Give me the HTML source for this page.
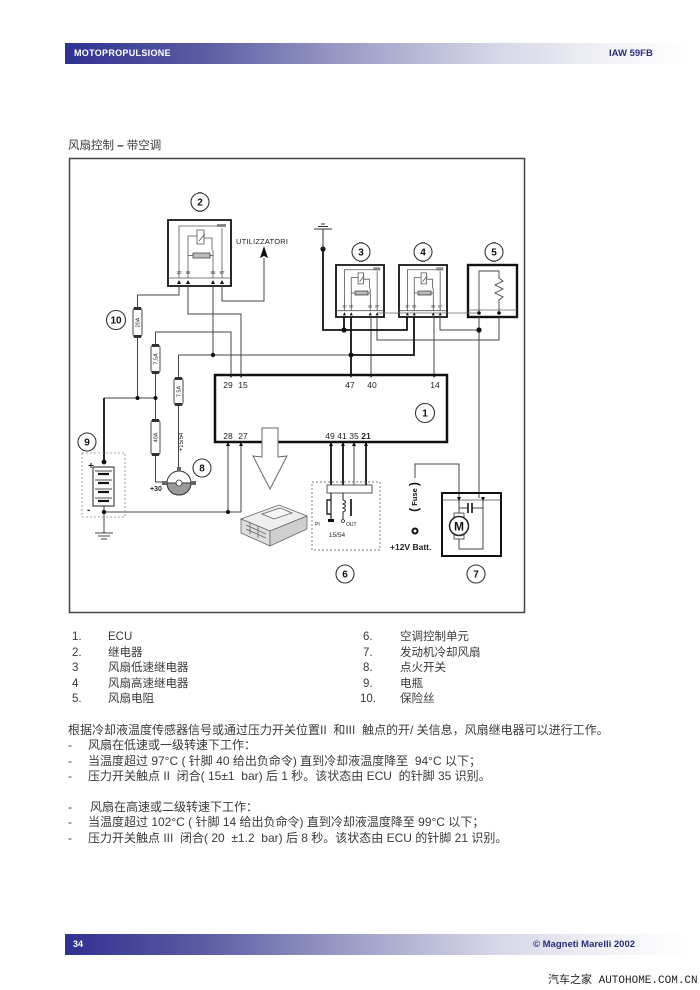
<!DOCTYPE html>
<html><head><meta charset="utf-8">
<style>
html,body{margin:0;padding:0;background:#fff;}
body{width:700px;height:990px;position:relative;overflow:hidden;font-family:"Liberation Sans","Noto Sans CJK SC",sans-serif;color:#3a3a3a;}
.t{position:absolute;white-space:pre;font-size:12px;line-height:16px;}
.lg{position:absolute;white-space:pre;font-size:11.5px;line-height:16px;}
.bar{position:absolute;left:65px;width:627px;height:21px;background:linear-gradient(to right,#2f3190 0%,#5a5ca3 22%,#9c9dc6 45%,#d4d5e6 68%,#f4f4f8 88%,#ffffff 100%);}
</style></head><body>

<div class="bar" style="top:43px;"></div>
<div style="position:absolute;left:74px;top:43px;line-height:21px;font-size:9px;font-weight:bold;color:#fff;letter-spacing:0.3px;">MOTOPROPULSIONE</div>
<div style="position:absolute;left:609px;top:43px;line-height:21px;font-size:9.5px;font-weight:bold;color:#2a2d7a;">IAW 59FB</div>

<div class="t" style="left:68px;top:138px;font-size:11.5px;">风扇控制 <b style="color:#222">–</b> 带空调</div>

<svg width="700" height="990" style="position:absolute;left:0;top:0" xmlns="http://www.w3.org/2000/svg" font-family="Liberation Sans, sans-serif">
<!-- border -->
<rect x="69.5" y="158.5" width="455" height="454" fill="none" stroke="#444" stroke-width="1.5"/>

<!-- relay 2 -->
<g transform="translate(168,220)">
 <rect x="0" y="0" width="63" height="66" fill="#fff" stroke="#111" stroke-width="1.8" vector-effect="non-scaling-stroke"/>
 <g fill="none" stroke="#555" stroke-width="0.8" vector-effect="non-scaling-stroke">
  <line x1="0" y1="58" x2="63" y2="58" vector-effect="non-scaling-stroke"/>
  <polyline points="11,58 11,6 50,6" vector-effect="non-scaling-stroke"/>
  <line x1="54" y1="8" x2="54" y2="58" vector-effect="non-scaling-stroke"/>
  <polyline points="20,58 20,16 29,16" vector-effect="non-scaling-stroke"/>
  <rect x="29" y="10" width="7" height="14" vector-effect="non-scaling-stroke"/>
  <line x1="31" y1="21" x2="37" y2="14" vector-effect="non-scaling-stroke"/>
  <polyline points="36,18 44,18 44,30" vector-effect="non-scaling-stroke"/>
  <line x1="20" y1="35.5" x2="25" y2="35.5" vector-effect="non-scaling-stroke"/>
  <line x1="42" y1="35.5" x2="45" y2="35.5" vector-effect="non-scaling-stroke"/>
  <line x1="45" y1="30" x2="45" y2="58" vector-effect="non-scaling-stroke"/>
 </g>
 <rect x="25" y="33" width="17" height="5" fill="#bbb" stroke="#444" stroke-width="0.8" vector-effect="non-scaling-stroke"/>
 <rect x="49" y="4" width="9" height="3" fill="#888"/>
 <g fill="#111"><polygon points="9,64 13,64 11,60"/><polygon points="18,64 22,64 20,60"/><polygon points="43,64 47,64 45,60"/><polygon points="52,64 56,64 54,60"/></g>
 <g font-size="4.5" fill="#333" text-anchor="middle"><text x="11" y="54">30</text><text x="20" y="54">86</text><text x="45" y="54">85</text><text x="54" y="54">87</text></g>
</g>

<!-- relay 3 -->
<g transform="translate(336,265) scale(0.762,0.788)">
 <rect x="0" y="0" width="63" height="66" fill="#fff" stroke="#111" stroke-width="1.8" vector-effect="non-scaling-stroke"/>
 <g fill="none" stroke="#555" stroke-width="0.8">
  <line x1="0" y1="58" x2="63" y2="58" vector-effect="non-scaling-stroke"/>
  <polyline points="11,58 11,6 50,6" vector-effect="non-scaling-stroke"/>
  <line x1="54" y1="8" x2="54" y2="58" vector-effect="non-scaling-stroke"/>
  <polyline points="20,58 20,16 29,16" vector-effect="non-scaling-stroke"/>
  <rect x="29" y="10" width="7" height="14" vector-effect="non-scaling-stroke"/>
  <line x1="31" y1="21" x2="37" y2="14" vector-effect="non-scaling-stroke"/>
  <polyline points="36,18 44,18 44,30" vector-effect="non-scaling-stroke"/>
  <line x1="20" y1="35.5" x2="25" y2="35.5" vector-effect="non-scaling-stroke"/>
  <line x1="42" y1="35.5" x2="45" y2="35.5" vector-effect="non-scaling-stroke"/>
  <line x1="45" y1="30" x2="45" y2="58" vector-effect="non-scaling-stroke"/>
 </g>
 <rect x="25" y="33" width="17" height="5" fill="#bbb" stroke="#444" stroke-width="0.8" vector-effect="non-scaling-stroke"/>
 <rect x="49" y="3" width="9" height="4" fill="#888"/>
 <g fill="#111"><polygon points="9,64 13,64 11,60"/><polygon points="18,64 22,64 20,60"/><polygon points="43,64 47,64 45,60"/><polygon points="52,64 56,64 54,60"/></g>
 <g font-size="5" fill="#333" text-anchor="middle"><text x="11" y="54">30</text><text x="20" y="54">85</text><text x="45" y="54">86</text><text x="54" y="54">87</text></g>
</g>

<!-- relay 4 -->
<g transform="translate(399,265) scale(0.762,0.788)">
 <rect x="0" y="0" width="63" height="66" fill="#fff" stroke="#111" stroke-width="1.8" vector-effect="non-scaling-stroke"/>
 <g fill="none" stroke="#555" stroke-width="0.8">
  <line x1="0" y1="58" x2="63" y2="58" vector-effect="non-scaling-stroke"/>
  <polyline points="11,58 11,6 50,6" vector-effect="non-scaling-stroke"/>
  <line x1="54" y1="8" x2="54" y2="58" vector-effect="non-scaling-stroke"/>
  <polyline points="20,58 20,16 29,16" vector-effect="non-scaling-stroke"/>
  <rect x="29" y="10" width="7" height="14" vector-effect="non-scaling-stroke"/>
  <line x1="31" y1="21" x2="37" y2="14" vector-effect="non-scaling-stroke"/>
  <polyline points="36,18 44,18 44,30" vector-effect="non-scaling-stroke"/>
  <line x1="20" y1="35.5" x2="25" y2="35.5" vector-effect="non-scaling-stroke"/>
  <line x1="42" y1="35.5" x2="45" y2="35.5" vector-effect="non-scaling-stroke"/>
  <line x1="45" y1="30" x2="45" y2="58" vector-effect="non-scaling-stroke"/>
 </g>
 <rect x="25" y="33" width="17" height="5" fill="#bbb" stroke="#444" stroke-width="0.8" vector-effect="non-scaling-stroke"/>
 <rect x="49" y="3" width="9" height="4" fill="#888"/>
 <g fill="#111"><polygon points="9,64 13,64 11,60"/><polygon points="18,64 22,64 20,60"/><polygon points="43,64 47,64 45,60"/><polygon points="52,64 56,64 54,60"/></g>
 <g font-size="5" fill="#333" text-anchor="middle"><text x="11" y="54">30</text><text x="20" y="54">85</text><text x="45" y="54">86</text><text x="54" y="54">87</text></g>
</g>

<!-- resistor 5 -->
<rect x="468" y="265" width="49" height="52" fill="#fff" stroke="#111" stroke-width="2.4"/>
<line x1="468" y1="310" x2="517" y2="310" stroke="#666" stroke-width="0.8"/>
<polyline points="479,313 479,271 499,271 499,278 503,281 495,285 503,289 495,293 503,297 499,300 499,313" fill="none" stroke="#444" stroke-width="0.9"/>

<!-- wires thin -->
<g fill="none" stroke="#444" stroke-width="1">
 <path d="M179 286 V295 H137.5 V308"/>
 <path d="M137.5 337 V398"/>
 <path d="M188 286 V314 H241 V375"/>
 <path d="M213 286 V355"/>
 <path d="M222 286 V301 H264 V258"/>
 <path d="M231 375 V332 H155.5 V345"/>
 <path d="M155.5 373 V420"/>
 <path d="M155.5 455 V482 H163"/>
 <path d="M104 398 H155.5"/>
 <path d="M178.5 355 H351"/>
 <path d="M178.5 355 V378"/>
 <path d="M178.5 405 V467"/>
 <path d="M371 317 V375"/>
 <path d="M434 317 V375"/>
 <path d="M377 317 V340 H499 V317"/>
 <path d="M440 317 V330 H479"/>
 <path d="M479 317 V498"/>
 <path d="M377 313 H479" stroke="#666" stroke-width="0.8"/>
 <path d="M104 512 H241"/>
 <path d="M228 512 V443"/>
 <path d="M241 512 V443"/>
 <path d="M104 506 V533"/>
 <path d="M354 443 V485"/>
 <path d="M415 478 V464 H459 V498"/>
 <path d="M459 500 V514"/>
 <path d="M459 538 V549 H483 V500"/>
 <path d="M459 508 H468 M472 508 H483"/>
</g>
<!-- wires thick -->
<g fill="none" stroke="#111" stroke-width="1.8">
 <path d="M104 398 V462"/>
 <path d="M351 317 V375"/>
 <path d="M414 317 V355 H351"/>
 <path d="M323 249 V330 H407 V317"/>
 <path d="M344 317 V330"/>
 <path d="M331 443 V485"/>
 <path d="M343 443 V485"/>
 <path d="M366 443 V485"/>
</g>
<!-- dots -->
<g fill="#111">
 <circle cx="213" cy="355" r="2.2"/><circle cx="351" cy="355" r="2.4"/>
 <circle cx="137.5" cy="398" r="2"/><circle cx="155.5" cy="398" r="2"/>
 <circle cx="104" cy="462" r="2.4"/><circle cx="104" cy="512" r="2.2"/>
 <circle cx="228" cy="512" r="2"/><circle cx="323" cy="249" r="2.6"/>
 <circle cx="344" cy="330" r="2.6"/><circle cx="479" cy="330" r="2.6"/>
 <circle cx="479" cy="313" r="1.8"/><circle cx="499" cy="313" r="1.8"/>
</g>

<!-- ground symbol top -->
<g stroke="#333" stroke-width="1"><line x1="323" y1="229" x2="323" y2="249"/><line x1="314" y1="229" x2="332" y2="229"/><line x1="318" y1="226.5" x2="328" y2="226.5"/><line x1="321" y1="224" x2="325" y2="224"/></g>

<!-- UTILIZZATORI arrow -->
<polygon points="264,246 268,258 264,256 260,258" fill="#111"/>
<text x="236" y="244" font-size="7.5" fill="#222" letter-spacing="0.2">UTILIZZATORI</text>

<!-- fuses -->
<g stroke="#333" stroke-width="0.9" fill="#fff">
 <rect x="133" y="308" width="9" height="29" rx="2.5"/>
 <rect x="151" y="345" width="9" height="28" rx="2.5"/>
 <rect x="174" y="378" width="9" height="27" rx="2.5"/>
 <rect x="151" y="420" width="9" height="35" rx="2.5"/>
</g>
<g fill="#333">
 <rect x="134" y="307" width="7" height="3"/><rect x="134" y="335" width="7" height="3"/>
 <rect x="152" y="344" width="7" height="3"/><rect x="152" y="371" width="7" height="3"/>
 <rect x="175" y="377" width="7" height="3"/><rect x="175" y="403" width="7" height="3"/>
 <rect x="152" y="419" width="7" height="3"/><rect x="152" y="453" width="7" height="3"/>
</g>
<g font-size="5.5" fill="#222" text-anchor="middle">
 <text transform="translate(139.5,322.5) rotate(-90)">20A</text>
 <text transform="translate(157.5,359) rotate(-90)">7,5A</text>
 <text transform="translate(180.5,391.5) rotate(-90)">7.5A</text>
 <text transform="translate(157.5,437.5) rotate(-90)">40A</text>
 <text transform="translate(183,442) rotate(-90)" font-size="6">+15/54</text>
</g>

<!-- ECU -->
<rect x="215" y="375" width="232" height="67" fill="#fff" stroke="#111" stroke-width="2.5"/>
<g fill="#111">
 <polygon points="229,374 233,374 231,378"/><polygon points="239,374 243,374 241,378"/>
 <polygon points="349,374 353,374 351,378"/><polygon points="369,374 373,374 371,378"/>
 <polygon points="432,374 436,374 434,378"/>
 <polygon points="226,446 230,446 228,442"/><polygon points="239,446 243,446 241,442"/>
 <polygon points="329,446 333,446 331,442"/><polygon points="341,446 345,446 343,442"/>
 <polygon points="352,446 356,446 354,442"/><polygon points="364,446 368,446 366,442"/>
</g>
<g font-size="8.5" fill="#222" text-anchor="middle">
 <text x="228" y="388">29</text><text x="243" y="388">15</text>
 <text x="350" y="388">47</text><text x="372" y="388">40</text><text x="435" y="388">14</text>
 <text x="228" y="439">28</text><text x="243" y="439">27</text>
 <text x="330" y="439">49</text><text x="342" y="439">41</text><text x="354" y="439">35</text><text x="366" y="439" font-weight="bold">21</text>
</g>
<!-- hollow arrow -->
<path d="M262 428 H278 V457 L287 456 L270 489 L253 456 L262 457 Z" fill="#fff" stroke="#666" stroke-width="1"/>

<!-- ECU module drawing -->
<g stroke="#666" stroke-width="0.8">
 <polygon points="241,519 279,505 307,516 270,531" fill="#eee"/>
 <polygon points="241,519 270,531 270,546 241,533" fill="#ddd"/>
 <polygon points="270,531 307,516 307,529 270,546" fill="#cfcfcf"/>
 <polygon points="262,514 280,508 292,513 274,519" fill="#f6f6f6"/>
 <line x1="246" y1="525" x2="266" y2="534"/>
 <line x1="246" y1="529" x2="266" y2="538"/>
 <line x1="250" y1="522" x2="250" y2="534"/>
 <line x1="258" y1="526" x2="258" y2="538"/>
</g>

<!-- battery 9 -->
<rect x="82" y="453" width="43" height="64" fill="none" stroke="#888" stroke-width="0.8" stroke-dasharray="2,2"/>
<rect x="93" y="467" width="21" height="39" fill="#fff" stroke="#222" stroke-width="1"/>
<g stroke="#111">
 <line x1="95" y1="471" x2="112" y2="471" stroke-width="0.8"/><line x1="98" y1="474" x2="109" y2="474" stroke-width="2.2"/>
 <line x1="95" y1="480" x2="112" y2="480" stroke-width="0.8"/><line x1="98" y1="483" x2="109" y2="483" stroke-width="2.2"/>
 <line x1="95" y1="489" x2="112" y2="489" stroke-width="0.8"/><line x1="98" y1="492" x2="109" y2="492" stroke-width="2.2"/>
 <line x1="95" y1="498" x2="112" y2="498" stroke-width="0.8"/><line x1="98" y1="501" x2="109" y2="501" stroke-width="2.2"/>
</g>
<text x="88" y="469" font-size="10" font-weight="bold" fill="#222">+</text>
<text x="87" y="513" font-size="10" font-weight="bold" fill="#222">-</text>
<g stroke="#444" stroke-width="1"><line x1="95" y1="533" x2="113" y2="533"/><line x1="98" y1="536" x2="110" y2="536"/><line x1="101" y1="539" x2="107" y2="539"/></g>

<!-- ignition switch 8 -->
<circle cx="179" cy="483" r="12" fill="#fff" stroke="#333" stroke-width="1"/>
<path d="M167 483 A12 12 0 0 0 191 483 Z" fill="#9a9a9a" stroke="#333" stroke-width="1"/>
<circle cx="179" cy="483" r="3" fill="#fff" stroke="#333" stroke-width="0.8"/>
<rect x="162" y="481" width="5" height="4" fill="#666"/><rect x="191" y="481" width="5" height="4" fill="#666"/><rect x="177" y="467" width="4" height="4" fill="#666"/>
<text x="150" y="491" font-size="7" font-weight="bold" fill="#222">+30</text>

<!-- AC unit 6 -->
<rect x="312" y="482" width="68" height="68" fill="none" stroke="#777" stroke-width="0.9" stroke-dasharray="2,2"/>
<rect x="327" y="485" width="45" height="8" fill="#fff" stroke="#444" stroke-width="0.9"/>
<g stroke="#222" fill="none">
 <path d="M331 493 V520" stroke-width="1.2"/>
 <path d="M331 500 H327 V514 H331" stroke-width="1.4"/>
 <path d="M343 493 V500" stroke-width="1"/>
 <path d="M343 500 q5 2 0 4 q5 2 0 4 q5 2 0 4 V519" stroke-width="1"/>
 <path d="M351 499 V516" stroke-width="1.8"/>
</g>
<rect x="328" y="519" width="6" height="3" fill="#111"/>
<circle cx="343" cy="521" r="1.5" fill="#fff" stroke="#222" stroke-width="0.8"/>
<text x="315" y="526" font-size="5" fill="#222">PI</text>
<text x="346" y="526" font-size="5" fill="#222">OUT</text>
<text x="337" y="537" font-size="6.5" fill="#222" text-anchor="middle">15/54</text>

<!-- fuse +12V -->
<text transform="translate(418,497) rotate(-90)" text-anchor="middle" fill="#111" font-weight="bold"><tspan font-size="12">(</tspan><tspan font-size="7.5" dy="-1"> Fuse </tspan><tspan font-size="12" dy="1">)</tspan></text>
<circle cx="415" cy="531" r="2.5" fill="#fff" stroke="#111" stroke-width="2"/>
<text x="390" y="550" font-size="8.5" font-weight="bold" fill="#222">+12V Batt.</text>

<!-- motor 7 -->
<rect x="442" y="493" width="59" height="63" fill="none" stroke="#111" stroke-width="2"/>
<line x1="442" y1="500" x2="501" y2="500" stroke="#555" stroke-width="0.8"/>
<polygon points="457,497 461,497 459,501" fill="#111"/><polygon points="481,497 485,497 483,501" fill="#111"/>
<g stroke="#111" stroke-width="1.6"><line x1="468" y1="503" x2="468" y2="513"/><line x1="472" y1="503" x2="472" y2="513"/></g>
<rect x="454" y="513" width="10" height="4" fill="#fff" stroke="#333" stroke-width="0.8"/>
<rect x="454" y="535" width="10" height="4" fill="#fff" stroke="#333" stroke-width="0.8"/>
<circle cx="459" cy="526" r="9.5" fill="#fff" stroke="#222" stroke-width="1.5"/>
<text x="459" y="530.5" font-size="12" font-weight="bold" fill="#111" text-anchor="middle">M</text>

<!-- numbered circles -->
<g stroke="#333" stroke-width="1.1" fill="#fff">
 <circle cx="200" cy="202" r="9"/><circle cx="116" cy="320" r="9.5"/><circle cx="87" cy="442" r="9"/>
 <circle cx="202" cy="468" r="9"/><circle cx="425" cy="413" r="9.5"/><circle cx="361" cy="252" r="9"/>
 <circle cx="423" cy="252" r="9"/><circle cx="494" cy="252" r="9"/><circle cx="345" cy="574" r="9"/>
 <circle cx="476" cy="574" r="9"/>
</g>
<g fill="#555">
 <rect x="198" y="192" width="4" height="1.5"/><rect x="198" y="210.5" width="4" height="1.5"/>
 <rect x="359" y="242" width="4" height="1.5"/><rect x="359" y="260.5" width="4" height="1.5"/>
 <rect x="421" y="242" width="4" height="1.5"/><rect x="421" y="260.5" width="4" height="1.5"/>
 <rect x="492" y="242" width="4" height="1.5"/><rect x="492" y="260.5" width="4" height="1.5"/>
</g>
<g font-size="10" font-weight="bold" fill="#111" text-anchor="middle">
 <text x="200" y="205.5">2</text><text x="116" y="323.5">10</text><text x="87" y="445.5">9</text>
 <text x="202" y="471.5">8</text><text x="425" y="416.5">1</text><text x="361" y="255.5">3</text>
 <text x="423" y="255.5">4</text><text x="494" y="255.5">5</text><text x="345" y="577.5">6</text>
 <text x="476" y="577.5">7</text>
</g>
</svg>

<!-- legend -->
<div class="lg" style="left:72px;top:629px;">1.</div><div class="lg" style="left:108px;top:629px;">ECU</div>
<div class="lg" style="left:72px;top:645px;">2.</div><div class="lg" style="left:108px;top:645px;">继电器</div>
<div class="lg" style="left:72px;top:660px;">3</div><div class="lg" style="left:108px;top:660px;">风扇低速继电器</div>
<div class="lg" style="left:72px;top:676px;">4</div><div class="lg" style="left:108px;top:676px;">风扇高速继电器</div>
<div class="lg" style="left:72px;top:691px;">5.</div><div class="lg" style="left:108px;top:691px;">风扇电阻</div>
<div class="lg" style="left:363px;top:629px;">6.</div><div class="lg" style="left:400px;top:629px;">空调控制单元</div>
<div class="lg" style="left:363px;top:645px;">7.</div><div class="lg" style="left:400px;top:645px;">发动机冷却风扇</div>
<div class="lg" style="left:363px;top:660px;">8.</div><div class="lg" style="left:400px;top:660px;">点火开关</div>
<div class="lg" style="left:363px;top:676px;">9.</div><div class="lg" style="left:400px;top:676px;">电瓶</div>
<div class="lg" style="left:360px;top:691px;">10.</div><div class="lg" style="left:400px;top:691px;">保险丝</div>

<!-- body -->
<div class="t" style="left:68px;top:722px;">根据冷却液温度传感器信号或通过压力开关位置II  和III  触点的开/ 关信息，风扇继电器可以进行工作。</div>
<div class="t" style="left:68px;top:737px;">-</div><div class="t" style="left:88px;top:737px;">风扇在低速或一级转速下工作：</div>
<div class="t" style="left:68px;top:753px;">-</div><div class="t" style="left:88px;top:753px;">当温度超过 97°C ( 针脚 40 给出负命令) 直到冷却液温度降至  94°C 以下；</div>
<div class="t" style="left:68px;top:768px;">-</div><div class="t" style="left:88px;top:768px;">压力开关触点 II  闭合( 15±1  bar) 后 1 秒。该状态由 ECU  的针脚 35 识别。</div>
<div class="t" style="left:68px;top:799px;">-</div><div class="t" style="left:90px;top:799px;">风扇在高速或二级转速下工作：</div>
<div class="t" style="left:68px;top:814px;">-</div><div class="t" style="left:88px;top:814px;">当温度超过 102°C ( 针脚 14 给出负命令) 直到冷却液温度降至 99°C 以下；</div>
<div class="t" style="left:68px;top:830px;">-</div><div class="t" style="left:88px;top:830px;">压力开关触点 III  闭合( 20  ±1.2  bar) 后 8 秒。该状态由 ECU 的针脚 21 识别。</div>

<!-- footer -->
<div class="bar" style="top:934px;"></div>
<div style="position:absolute;left:73px;top:934px;line-height:21px;font-size:9px;font-weight:bold;color:#fff;">34</div>
<div style="position:absolute;left:533px;top:934px;line-height:21px;font-size:9.5px;font-weight:bold;color:#2a2d7a;">© Magneti Marelli 2002</div>
<div style="position:absolute;left:548px;top:973px;line-height:16px;font-size:11px;color:#222;white-space:pre;font-family:'Liberation Mono','Noto Sans CJK SC',monospace;">汽车之家 AUTOHOME.COM.CN</div>
</body></html>
